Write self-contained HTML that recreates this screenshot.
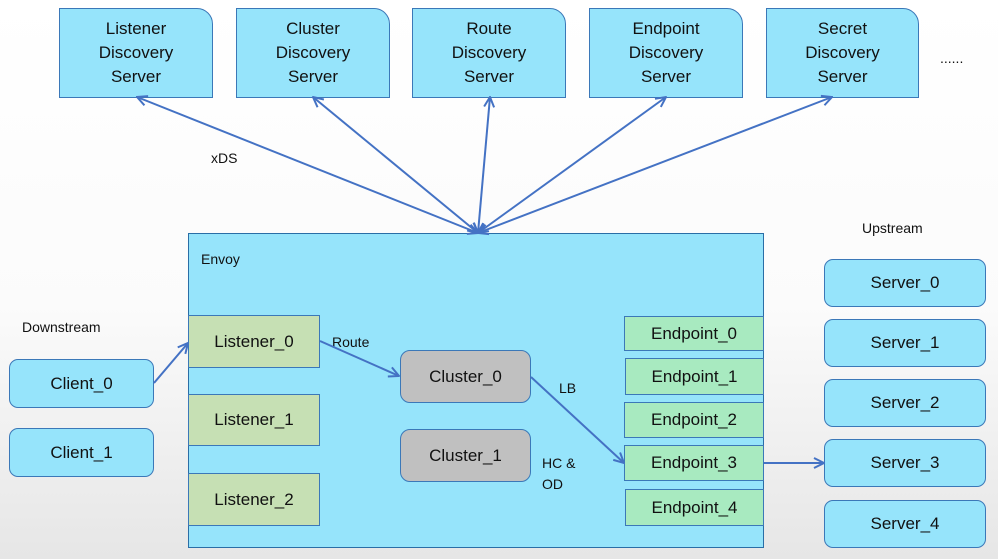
<!DOCTYPE html>
<html><head><meta charset="utf-8"><style>
body{margin:0;width:998px;height:559px;overflow:hidden;background:linear-gradient(#fff 0%,#fbfbfb 55%,#e6e6e6 100%);font-family:"Liberation Sans",sans-serif;}
.b{position:absolute;box-sizing:border-box;display:flex;align-items:center;justify-content:center;text-align:center;color:#111;font-size:17px;line-height:24px}
.top{background:#96e4fb;border:1.5px solid #3b78b8;border-top-right-radius:16px}
.g{background:#c6e0b4;border:1.5px solid #3b78b8}
.e{background:#a8eac0;border:1.5px solid #3b78b8}
.c{background:#c0c0c0;border:1.5px solid #3b78b8;border-radius:10px}
.s{background:#96e4fb;border:1.5px solid #3b78b8;border-radius:9px}
.t{position:absolute;font-size:14px;color:#111}
</style></head><body>
<div class="b top" style="left:59px;top:8px;width:154px;height:90px">Listener<br>Discovery<br>Server</div>
<div class="b top" style="left:236px;top:8px;width:154px;height:90px">Cluster<br>Discovery<br>Server</div>
<div class="b top" style="left:412px;top:8px;width:154px;height:90px">Route<br>Discovery<br>Server</div>
<div class="b top" style="left:589px;top:8px;width:154px;height:90px">Endpoint<br>Discovery<br>Server</div>
<div class="b top" style="left:766px;top:8px;width:153px;height:90px">Secret<br>Discovery<br>Server</div>
<div class="t" style="left:940px;top:50px">......</div>
<div class="t" style="left:211px;top:150px">xDS</div>
<div class="b" style="left:188px;top:233px;width:576px;height:315px;background:#96e4fb;border:1.5px solid #2a6ea6"></div>
<div class="t" style="left:201px;top:251px">Envoy</div>
<div class="t" style="left:862px;top:220px">Upstream</div>
<div class="t" style="left:22px;top:319px">Downstream</div>
<div class="b g" style="left:188px;top:315px;width:132px;height:53px">Listener_0</div>
<div class="b g" style="left:188px;top:394px;width:132px;height:52px">Listener_1</div>
<div class="b g" style="left:188px;top:473px;width:132px;height:53px">Listener_2</div>
<div class="b c" style="left:400px;top:350px;width:131px;height:53px">Cluster_0</div>
<div class="b c" style="left:400px;top:429px;width:131px;height:53px">Cluster_1</div>
<div class="b e" style="left:624px;top:316px;width:140px;height:35px">Endpoint_0</div>
<div class="b e" style="left:625px;top:358px;width:139px;height:37px">Endpoint_1</div>
<div class="b e" style="left:624px;top:402px;width:140px;height:36px">Endpoint_2</div>
<div class="b e" style="left:624px;top:445px;width:140px;height:36px">Endpoint_3</div>
<div class="b e" style="left:625px;top:489px;width:139px;height:37px">Endpoint_4</div>
<div class="b s" style="left:824px;top:259px;width:162px;height:48px">Server_0</div>
<div class="b s" style="left:824px;top:319px;width:162px;height:48px">Server_1</div>
<div class="b s" style="left:824px;top:379px;width:162px;height:48px">Server_2</div>
<div class="b s" style="left:824px;top:439px;width:162px;height:48px">Server_3</div>
<div class="b s" style="left:824px;top:500px;width:162px;height:48px">Server_4</div>
<div class="b s" style="left:9px;top:359px;width:145px;height:49px">Client_0</div>
<div class="b s" style="left:9px;top:428px;width:145px;height:49px">Client_1</div>
<div class="t" style="left:332px;top:334px">Route</div>
<div class="t" style="left:559px;top:380px">LB</div>
<div class="t" style="left:542px;top:453px;line-height:21px">HC &amp;<br>OD</div>
<svg width="998" height="559" style="position:absolute;left:0;top:0" fill="none" stroke="#4472c4" stroke-width="2">
<defs><marker id="a" viewBox="0 0 12 12" refX="11" refY="6" markerWidth="12" markerHeight="12" markerUnits="userSpaceOnUse" orient="auto-start-reverse"><path d="M1 1L11 6L1 11" fill="none" stroke="#4472c4" stroke-width="2"/></marker></defs>
<g marker-start="url(#a)" marker-end="url(#a)">
<line x1="137" y1="97" x2="478" y2="233"/>
<line x1="313" y1="97" x2="478" y2="233"/>
<line x1="490" y1="97" x2="478" y2="233"/>
<line x1="666" y1="97" x2="478" y2="233"/>
<line x1="832" y1="97" x2="478" y2="233"/>
</g>
<g marker-end="url(#a)">
<line x1="154" y1="383" x2="188" y2="343"/>
<line x1="320" y1="341" x2="399" y2="376"/>
<line x1="531" y1="377" x2="624" y2="463"/>
<line x1="764" y1="463" x2="824" y2="463"/>
</g>
</svg>
</body></html>
